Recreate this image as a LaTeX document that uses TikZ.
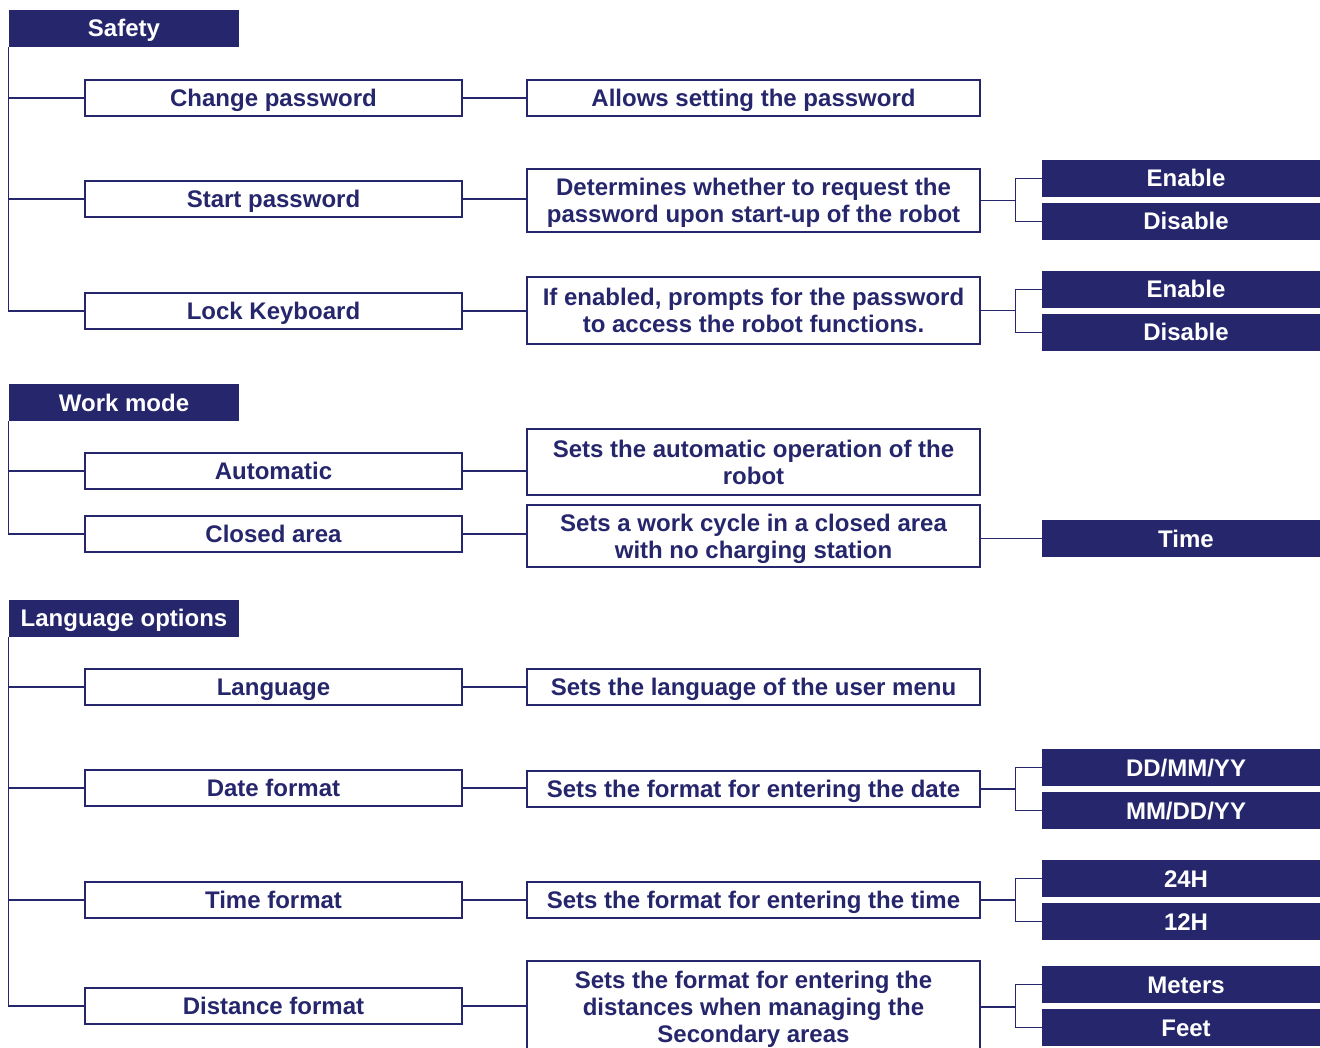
\documentclass[tikz,border=0pt]{standalone}
\usepackage{fontspec}
\setmainfont{Liberation Sans}
\usetikzlibrary{positioning}
\definecolor{menublue}{RGB}{38,38,108}

\begin{document}
\begin{tikzpicture}[x=1pt,y=-1pt,
  font=\fontsize{24}{27}\selectfont\bfseries,
  head/.style={fill=menublue,text=white,minimum width=230pt,minimum height=37pt,inner sep=0pt,text height=17pt,text depth=0pt},
  item/.style={draw=menublue,line width=1.2pt,text=menublue,fill=white,minimum width=377pt,minimum height=36pt,inner sep=0pt,text height=17pt,text depth=0pt},
  desc/.style={draw=menublue,line width=1.2pt,text=menublue,fill=white,minimum width=453pt,minimum height=36pt,inner sep=0pt,align=center,text depth=0pt},
  opt/.style={fill=menublue,text=white,minimum width=288pt,minimum height=37pt,inner sep=0pt,text height=17pt,text depth=0pt},
  link/.style={draw=menublue,line width=1.2pt}]
\useasboundingbox (0,0) rectangle (1320,1048);

% Safety
\node[head] (safety) at (124,28.5) {Safety};
\node[item] (chpw) at (273.5,98) {Change password};
\node[item] (stpw) at (273.5,199) {Start password};
\node[item] (lock) at (273.5,311) {Lock Keyboard};
\node[desc] (chpwdesc) at (753.5,98) {Allows setting the password};
\node[desc,minimum height=63pt] (stpwdesc) at (753.5,200.5) {Determines whether to request the\\password upon start-up of the robot};
\node[desc,minimum height=67pt] (lockdesc) at (753.5,310.5) {If enabled, prompts for the password\\to access the robot functions.};
\node[opt] (enable1) at (1186,178.5) {Enable};
\node[opt] (disable1) at (1186,221.5) {Disable};
\node[opt] (enable2) at (1186,289.5) {Enable};
\node[opt] (disable2) at (1186,332.5) {Disable};

% Work mode
\node[head] (workmode) at (124,402.5) {Work mode};
\node[item] (auto) at (273.5,471) {Automatic};
\node[item] (closed) at (273.5,534) {Closed area};
\node[desc,minimum height=66pt] (autodesc) at (753.5,462) {Sets the automatic operation of the\\robot};
\node[desc,minimum height=62pt] (closeddesc) at (753.5,536) {Sets a work cycle in a closed area\\with no charging station};
\node[opt] (time) at (1186,538.5) {Time};

% Language options
\node[head] (langopt) at (124,618) {Language options};
\node[item] (lang) at (273.5,687) {Language};
\node[item] (date) at (273.5,788) {Date format};
\node[item] (tfmt) at (273.5,900) {Time format};
\node[item] (dist) at (273.5,1006) {Distance format};
\node[desc] (langdesc) at (753.5,687) {Sets the language of the user menu};
\node[desc] (datedesc) at (753.5,789) {Sets the format for entering the date};
\node[desc] (tfmtdesc) at (753.5,900) {Sets the format for entering the time};
\node[desc,minimum height=92pt] (distdesc) at (753.5,1007) {Sets the format for entering the\\distances when managing the\\Secondary areas};
\node[opt] (dmy) at (1186,767.5) {DD/MM/YY};
\node[opt] (mdy) at (1186,810.5) {MM/DD/YY};
\node[opt] (h24) at (1186,878.5) {24H};
\node[opt] (h12) at (1186,921.5) {12H};
\node[opt] (meters) at (1186,984.5) {Meters};
\node[opt] (feet) at (1186,1027.5) {Feet};

% tree lines
\draw[link] (safety.south west) |- (lock.west);
\draw[link] (safety.south west |- chpw.west) -- (chpw.west);
\draw[link] (safety.south west |- stpw.west) -- (stpw.west);
\draw[link] (workmode.south west) |- (closed.west);
\draw[link] (workmode.south west |- auto.west) -- (auto.west);
\draw[link] (langopt.south west) |- (dist.west);
\draw[link] (langopt.south west |- lang.west) -- (lang.west);
\draw[link] (langopt.south west |- date.west) -- (date.west);
\draw[link] (langopt.south west |- tfmt.west) -- (tfmt.west);

% item to description
\foreach \a/\b in {chpw/chpwdesc,stpw/stpwdesc,lock/lockdesc,auto/autodesc,closed/closeddesc,lang/langdesc,date/datedesc,tfmt/tfmtdesc,dist/distdesc}
  \draw[link] (\a.east) -- (\a.east -| \b.west);

% description to options
\draw[link] (closeddesc.east |- time.west) -- (time.west);
\foreach \d/\u/\l in {stpwdesc/enable1/disable1,lockdesc/enable2/disable2,datedesc/dmy/mdy,tfmtdesc/h24/h12,distdesc/meters/feet}{
  \coordinate[right=35pt of \d.east] (\d-fork);
  \draw[link] (\d.east) -- (\d-fork);
  \draw[link] (\u.west) -| (\d-fork) |- (\l.west);
}

\end{tikzpicture}
\end{document}
